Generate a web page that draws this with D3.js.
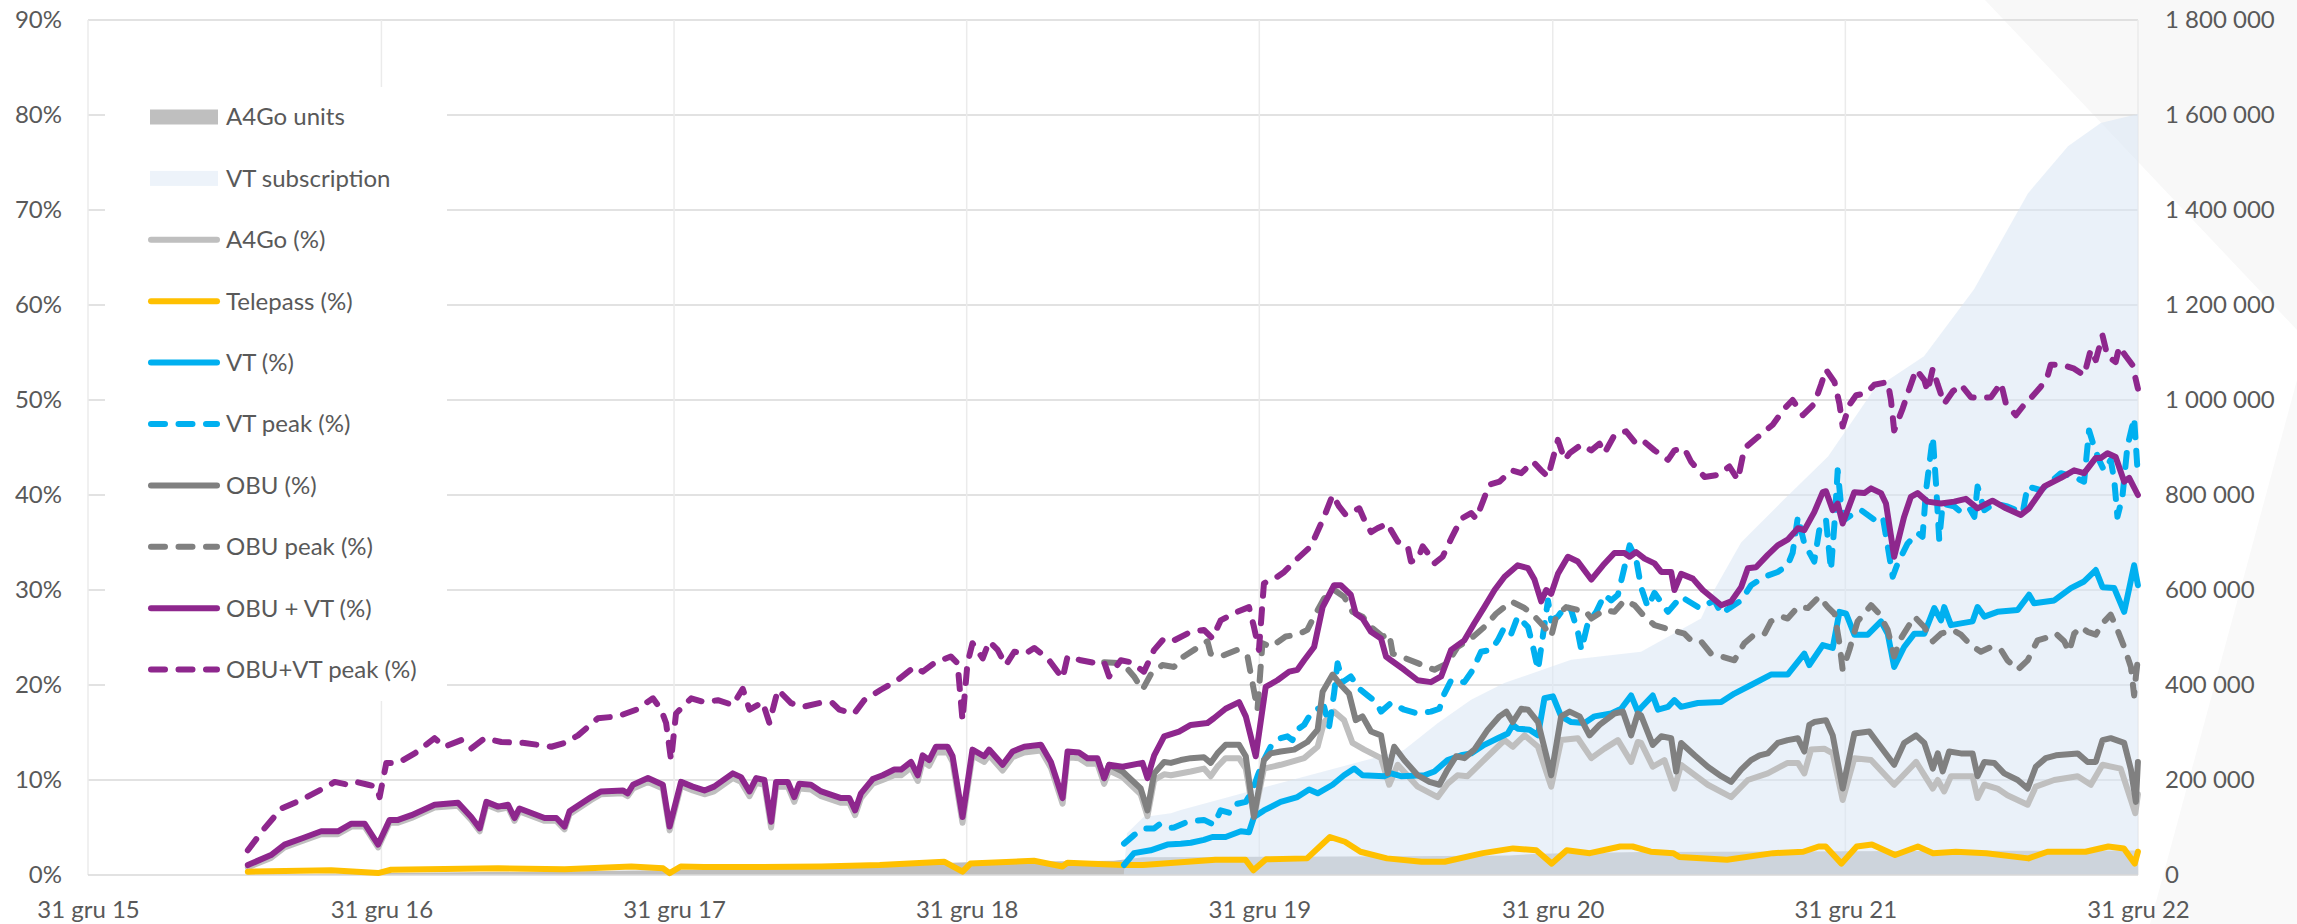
<!DOCTYPE html>
<html>
<head>
<meta charset="utf-8">
<script src="https://cdn.jsdelivr.net/npm/d3@7"></script>
<style>
  body { margin: 0; background: #fff; }
  svg text { font-family: Lato, "Open Sans", sans-serif; fill: #595959; }
</style>
</head>
<body>
<svg id="chart" width="2297" height="924"></svg>
<script>
// ---- data (dates as decimal years, values in % or units) ----

const yearEnds = ["2015-12-31", "2016-12-31", "2017-12-31", "2018-12-31", "2019-12-31", "2020-12-31", "2021-12-31", "2022-12-31"];
const pctTicks = [0, 10, 20, 30, 40, 50, 60, 70, 80, 90];
const unitTicks = [0, 200000, 400000, 600000, 800000, 1000000, 1200000, 1400000, 1600000, 1800000];

const a4goUnits = [[2016.54,1000],[2017.0,4000],[2017.5,7000],[2018.0,10500],[2018.5,17000],[2019.0,27000],[2019.5,30000],
  [2019.6,37500],[2020.0,38500],[2020.5,39500],[2020.85,41000],[2020.95,45000],[2021.3,48500],[2022.0,50000],[2022.5,50800],[2022.997,51500]];

const vtSubscriptions = [[2019.534,0],[2019.545,88000],[2019.602,122000],[2019.695,130000],[2019.729,137000],[2020.149,207000],
  [2020.490,263000],[2020.606,320000],[2020.719,369000],[2020.832,404000],[2021.060,453000],[2021.299,470000],[2021.504,540000],
  [2021.549,600000],[2021.641,700000],[2021.777,784000],[2021.938,881000],[2022.095,1022000],[2022.266,1092000],[2022.437,1233000],
  [2022.621,1435000],[2022.758,1534000],[2022.870,1583000],[2022.997,1602000]];

const a4goPct = [[2016.542,0.8],[2016.621,1.8],[2016.667,2.9],[2016.730,3.6],[2016.792,4.3],[2016.849,4.3],[2016.895,5.1],[2016.940,5.1],
  [2016.986,2.9],[2017.025,5.5],[2017.054,5.5],[2017.100,6.0],[2017.179,7.1],[2017.259,7.3],[2017.304,5.8],[2017.333,4.6],[2017.356,7.4],
  [2017.396,6.9],[2017.430,7.1],[2017.452,5.7],[2017.469,6.7],[2017.555,5.7],[2017.595,5.7],[2017.623,4.8],[2017.640,6.4],[2017.714,7.9],
  [2017.748,8.5],[2017.822,8.6],[2017.839,8.3],[2017.857,9.1],[2017.908,9.8],[2017.959,9.1],[2017.982,4.7],[2018.021,9.4],[2018.061,8.9],
  [2018.101,8.5],[2018.134,8.8],[2018.198,10.2],[2018.226,9.8],[2018.255,8.3],[2018.278,9.7],[2018.306,9.5],[2018.329,5.0],[2018.346,9.3],
  [2018.386,9.3],[2018.408,7.7],[2018.425,9.1],[2018.465,9.0],[2018.500,8.3],[2018.568,7.6],[2018.596,7.6],[2018.616,6.3],[2018.636,8.1],
  [2018.676,9.6],[2018.710,10.0],[2018.750,10.5],[2018.773,10.5],[2018.807,11.3],[2018.830,9.9],[2018.847,12.0],[2018.869,11.5],
  [2018.892,12.9],[2018.932,12.9],[2018.949,11.9],[2018.983,5.5],[2019.017,12.6],[2019.057,11.9],[2019.074,12.6],[2019.120,11.0],
  [2019.154,12.4],[2019.194,12.9],[2019.251,13.1],[2019.285,11.3],[2019.325,7.5],[2019.342,12.4],[2019.381,12.3],[2019.410,11.7],
  [2019.444,11.7],[2019.467,9.6],[2019.484,11.0],[2019.530,10.3],[2019.592,8.5],[2019.615,6.2],[2019.638,10.0],[2019.672,10.6],
  [2019.695,10.5],[2019.763,10.9],[2019.808,11.2],[2019.831,10.4],[2019.854,11.4],[2019.882,12.3],[2019.928,12.3],[2019.951,11.2],
  [2019.979,6.1],[2020.013,11.2],[2020.070,11.6],[2020.150,12.3],[2020.196,13.5],[2020.218,16.1],[2020.252,17.2],[2020.286,16.3],
  [2020.315,13.9],[2020.355,13.2],[2020.412,12.3],[2020.440,9.5],[2020.469,11.6],[2020.537,9.3],[2020.605,8.2],[2020.639,9.6],
  [2020.673,10.5],[2020.707,10.4],[2020.776,12.5],[2020.833,14.2],[2020.861,13.5],[2020.901,14.7],[2020.947,13.5],[2020.992,9.3],
  [2021.026,14.2],[2021.083,14.4],[2021.129,12.3],[2021.174,13.3],[2021.220,14.2],[2021.265,11.9],[2021.288,14.0],[2021.299,13.9],
  [2021.339,11.4],[2021.379,12.1],[2021.413,9.1],[2021.436,11.6],[2021.527,9.5],[2021.607,8.2],[2021.664,10.0],[2021.732,10.7],
  [2021.800,11.8],[2021.835,11.8],[2021.857,10.7],[2021.880,13.2],[2021.925,13.3],[2021.954,12.8],[2021.988,7.9],[2022.028,12.3],
  [2022.085,12.1],[2022.164,9.5],[2022.239,11.9],[2022.296,9.1],[2022.313,10.0],[2022.335,8.8],[2022.358,10.4],[2022.432,10.4],
  [2022.449,8.1],[2022.472,9.5],[2022.517,9.1],[2022.551,8.4],[2022.620,7.4],[2022.648,9.3],[2022.711,10.0],[2022.791,10.4],
  [2022.836,9.5],[2022.876,11.6],[2022.938,11.2],[2022.988,6.5],[2022.997,8.5]];

const telepassPct = [[2016.542,0.35],[2016.826,0.5],[2016.986,0.2],[2017.03,0.55],[2017.396,0.7],[2017.623,0.6],[2017.851,0.9],
  [2017.96,0.7],[2017.982,0.2],[2018.02,0.9],[2018.1,0.85],[2018.3,0.85],[2018.5,0.9],[2018.7,1.05],[2018.92,1.4],[2018.983,0.35],
  [2019.01,1.2],[2019.227,1.5],[2019.325,0.9],[2019.342,1.3],[2019.53,1.05],[2019.6,1.05],[2019.847,1.6],[2019.95,1.6],[2019.977,0.5],
  [2020.02,1.65],[2020.16,1.75],[2020.238,4.0],[2020.289,3.5],[2020.342,2.45],[2020.432,1.75],[2020.55,1.4],[2020.629,1.4],
  [2020.759,2.3],[2020.862,2.8],[2020.941,2.6],[2020.994,1.2],[2021.045,2.6],[2021.124,2.3],[2021.228,3.0],[2021.27,3.0],
  [2021.332,2.45],[2021.41,2.3],[2021.43,1.9],[2021.593,1.6],[2021.75,2.3],[2021.853,2.45],[2021.906,3.0],[2021.93,3.0],
  [2021.984,1.2],[2022.036,3.0],[2022.088,3.2],[2022.167,2.1],[2022.245,3.0],[2022.297,2.3],[2022.375,2.45],[2022.479,2.3],
  [2022.623,1.75],[2022.688,2.45],[2022.818,2.45],[2022.896,3.0],[2022.949,2.8],[2022.986,1.2],[2022.997,2.45]];

const vtPct = [[2019.535,1.05],[2019.569,2.3],[2019.626,2.6],[2019.683,3.2],[2019.729,3.3],[2019.763,3.4],[2019.808,3.7],[2019.837,4.0],
  [2019.882,4.0],[2019.934,4.6],[2019.962,4.5],[2019.979,6.1],[2020.013,6.8],[2020.070,7.7],[2020.127,8.2],[2020.167,9.0],[2020.196,8.6],
  [2020.247,9.5],[2020.286,10.5],[2020.321,11.2],[2020.349,10.5],[2020.423,10.4],[2020.446,10.7],[2020.480,10.4],[2020.560,10.5],
  [2020.594,10.9],[2020.639,12.1],[2020.685,12.6],[2020.719,12.8],[2020.764,13.7],[2020.810,14.4],[2020.844,14.9],[2020.861,15.8],
  [2020.878,15.4],[2020.918,15.3],[2020.947,14.7],[2020.969,18.6],[2020.998,18.8],[2021.026,16.7],[2021.060,16.1],[2021.106,16.0],
  [2021.140,16.7],[2021.197,17.0],[2021.231,17.5],[2021.265,18.9],[2021.288,17.2],[2021.299,17.6],[2021.339,18.9],[2021.357,17.4],
  [2021.391,17.7],[2021.413,18.4],[2021.436,17.7],[2021.493,18.1],[2021.573,18.2],[2021.618,19.1],[2021.675,20.0],[2021.743,21.1],
  [2021.800,21.1],[2021.857,23.3],[2021.874,22.1],[2021.920,24.2],[2021.954,23.9],[2021.977,27.7],[2022.000,27.5],[2022.028,25.3],
  [2022.074,25.3],[2022.119,26.7],[2022.142,25.4],[2022.164,21.9],[2022.198,24.0],[2022.233,25.4],[2022.267,25.4],[2022.301,28.1],
  [2022.324,26.8],[2022.335,28.2],[2022.358,26.3],[2022.432,26.7],[2022.449,28.2],[2022.472,27.2],[2022.517,27.7],[2022.586,27.9],
  [2022.625,29.5],[2022.642,28.6],[2022.711,28.9],[2022.768,30.2],[2022.813,30.9],[2022.853,32.1],[2022.876,30.3],[2022.916,30.2],
  [2022.950,27.7],[2022.984,32.6],[2022.997,30.5]];

const vtPeakPct = [[2019.535,3.3],[2019.569,4.2],[2019.603,4.9],[2019.638,4.9],[2019.655,5.3],[2019.683,4.9],[2019.706,5.0],
  [2019.752,5.6],[2019.808,5.8],[2019.842,5.3],[2019.865,6.8],[2019.900,6.5],[2019.922,7.5],[2019.951,7.7],[2019.974,8.9],
  [2019.991,10.4],[2020.013,12.1],[2020.036,13.5],[2020.070,14.4],[2020.093,14.6],[2020.110,14.2],[2020.127,15.3],[2020.150,15.8],
  [2020.173,17.0],[2020.196,17.5],[2020.218,17.7],[2020.235,15.6],[2020.252,19.1],[2020.264,22.3],[2020.281,20.3],[2020.309,20.9],
  [2020.338,19.6],[2020.366,18.9],[2020.395,18.2],[2020.412,17.2],[2020.446,18.1],[2020.491,17.4],[2020.537,17.0],[2020.582,17.2],
  [2020.611,17.5],[2020.628,19.1],[2020.651,20.5],[2020.696,20.3],[2020.725,21.6],[2020.753,23.5],[2020.787,23.7],[2020.810,24.7],
  [2020.833,26.1],[2020.856,25.4],[2020.878,27.2],[2020.913,26.1],[2020.930,24.0],[2020.947,21.6],[2020.981,28.9],[2020.992,26.8],
  [2021.015,27.2],[2021.043,28.4],[2021.060,27.9],[2021.083,25.6],[2021.095,23.7],[2021.117,26.5],[2021.146,27.7],[2021.174,29.5],
  [2021.197,28.9],[2021.220,29.5],[2021.237,31.7],[2021.260,34.7],[2021.282,33.3],[2021.299,30.3],[2021.322,28.2],[2021.345,29.7],
  [2021.391,27.7],[2021.436,29.3],[2021.499,28.1],[2021.550,28.9],[2021.573,27.5],[2021.641,28.9],[2021.675,30.5],[2021.721,31.4],
  [2021.766,31.9],[2021.800,32.6],[2021.817,33.9],[2021.835,37.7],[2021.857,34.9],[2021.891,33.0],[2021.908,36.3],[2021.931,37.4],
  [2021.948,32.1],[2021.960,37.0],[2021.971,42.6],[2021.982,39.1],[2021.994,37.4],[2022.028,38.1],[2022.051,38.4],[2022.096,37.4],
  [2022.125,37.7],[2022.142,34.6],[2022.159,31.4],[2022.176,32.8],[2022.210,34.9],[2022.244,36.0],[2022.261,35.6],[2022.273,40.5],
  [2022.296,46.1],[2022.307,41.2],[2022.318,35.3],[2022.330,39.1],[2022.369,38.8],[2022.392,38.2],[2022.421,38.6],[2022.438,37.7],
  [2022.449,40.9],[2022.472,38.4],[2022.506,39.1],[2022.551,38.8],[2022.603,38.1],[2022.620,40.9],[2022.665,40.5],[2022.734,42.3],
  [2022.779,41.9],[2022.813,41.4],[2022.830,46.8],[2022.847,45.1],[2022.864,43.7],[2022.881,42.6],[2022.904,43.7],[2022.916,41.6],
  [2022.927,37.7],[2022.944,39.8],[2022.961,45.1],[2022.984,48.1],[2022.997,42.0]];

const obuPct = [[2019.467,10.2],[2019.484,11.6],[2019.530,10.9],[2019.592,9.1],[2019.615,6.8],[2019.638,10.7],[2019.672,11.9],
  [2019.695,11.8],[2019.729,12.1],[2019.763,12.3],[2019.808,12.4],[2019.831,11.8],[2019.854,12.8],[2019.882,13.7],[2019.928,13.7],
  [2019.951,12.5],[2019.979,6.1],[2020.013,12.1],[2020.036,12.8],[2020.070,13.0],[2020.116,13.2],[2020.161,14.0],[2020.196,15.3],
  [2020.213,19.3],[2020.247,21.1],[2020.275,20.0],[2020.303,19.1],[2020.326,16.3],[2020.349,16.7],[2020.378,15.1],[2020.412,14.7],
  [2020.435,10.7],[2020.457,13.5],[2020.491,12.1],[2020.537,10.5],[2020.577,9.8],[2020.611,9.5],[2020.639,11.1],[2020.668,12.5],
  [2020.696,12.3],[2020.730,13.2],[2020.776,15.3],[2020.816,16.7],[2020.839,17.2],[2020.861,16.1],[2020.890,17.5],[2020.913,17.4],
  [2020.947,16.1],[2020.992,10.5],[2021.026,16.7],[2021.055,17.2],[2021.089,16.7],[2021.123,14.7],[2021.157,15.8],[2021.208,17.0],
  [2021.237,17.2],[2021.265,14.7],[2021.288,17.0],[2021.299,16.8],[2021.339,13.7],[2021.368,14.6],[2021.402,14.4],[2021.419,10.9],
  [2021.436,13.9],[2021.482,12.6],[2021.527,11.4],[2021.573,10.4],[2021.607,9.8],[2021.641,11.1],[2021.675,12.1],[2021.704,12.6],
  [2021.732,12.8],[2021.766,13.9],[2021.800,14.2],[2021.835,14.4],[2021.857,13.0],[2021.874,15.8],[2021.891,16.1],[2021.931,16.3],
  [2021.954,14.7],[2021.988,9.1],[2022.028,14.9],[2022.079,15.1],[2022.108,13.9],[2022.164,11.6],[2022.198,13.9],[2022.239,14.7],
  [2022.267,13.9],[2022.296,11.2],[2022.313,12.8],[2022.330,10.9],[2022.352,13.0],[2022.392,12.8],[2022.432,12.8],[2022.449,10.4],
  [2022.472,11.9],[2022.506,11.8],[2022.540,10.7],[2022.586,10.0],[2022.620,9.1],[2022.648,11.4],[2022.682,12.3],[2022.717,12.6],
  [2022.791,12.8],[2022.825,11.9],[2022.853,11.9],[2022.876,14.2],[2022.904,14.4],[2022.950,13.9],[2022.973,11.1],[2022.990,7.7],
  [2022.997,11.9]];

const obuPeakPct = [[2019.467,22.4],[2019.530,22.3],[2019.569,20.9],[2019.598,19.5],[2019.626,21.1],[2019.666,22.1],[2019.706,21.9],
  [2019.729,22.8],[2019.820,24.6],[2019.831,23.3],[2019.865,23.0],[2019.922,23.7],[2019.957,23.0],[2019.991,17.4],[2020.008,24.4],
  [2020.036,24.0],[2020.087,25.1],[2020.127,25.3],[2020.161,25.8],[2020.184,27.2],[2020.218,29.1],[2020.252,30.0],[2020.286,29.3],
  [2020.315,27.7],[2020.349,27.2],[2020.378,26.1],[2020.418,25.1],[2020.440,25.4],[2020.452,23.3],[2020.480,23.0],[2020.537,22.3],
  [2020.594,21.6],[2020.639,22.3],[2020.673,24.0],[2020.719,24.9],[2020.764,26.1],[2020.804,27.5],[2020.856,28.8],[2020.901,28.1],
  [2020.930,27.4],[2020.969,26.1],[2020.992,25.1],[2021.009,27.2],[2021.043,28.2],[2021.083,27.9],[2021.106,27.9],[2021.129,27.0],
  [2021.174,27.9],[2021.208,27.7],[2021.242,28.9],[2021.277,28.4],[2021.311,27.2],[2021.345,26.3],[2021.402,25.8],[2021.447,25.4],
  [2021.470,24.7],[2021.504,24.6],[2021.538,23.3],[2021.573,23.0],[2021.618,22.6],[2021.652,24.4],[2021.686,25.3],[2021.721,25.4],
  [2021.743,26.7],[2021.777,27.2],[2021.800,27.0],[2021.835,28.2],[2021.869,28.1],[2021.908,29.3],[2021.937,28.2],[2021.960,27.5],
  [2021.977,24.4],[2021.988,21.6],[2022.011,23.7],[2022.039,26.7],[2022.085,28.4],[2022.113,27.5],[2022.142,25.8],[2022.164,23.0],
  [2022.187,24.9],[2022.233,27.2],[2022.267,26.1],[2022.296,24.6],[2022.324,25.4],[2022.364,25.8],[2022.392,25.3],[2022.426,24.2],
  [2022.460,23.5],[2022.495,24.0],[2022.529,23.7],[2022.551,22.6],[2022.586,21.6],[2022.620,22.6],[2022.654,24.7],[2022.677,24.9],
  [2022.717,25.4],[2022.745,24.6],[2022.762,23.5],[2022.779,25.4],[2022.802,26.1],[2022.825,25.6],[2022.853,25.3],[2022.876,26.5],
  [2022.904,27.4],[2022.927,25.8],[2022.950,24.0],[2022.973,21.9],[2022.984,18.9],[2022.990,20.9],[2022.997,22.8]];

const obuVtPct = [[2016.542,1.05],[2016.621,2.1],[2016.667,3.2],[2016.730,3.9],[2016.792,4.6],[2016.849,4.6],[2016.895,5.4],
  [2016.940,5.4],[2016.986,3.2],[2017.025,5.8],[2017.054,5.8],[2017.100,6.3],[2017.179,7.4],[2017.259,7.6],[2017.304,6.1],
  [2017.333,4.9],[2017.356,7.7],[2017.396,7.2],[2017.430,7.4],[2017.452,6.0],[2017.469,7.0],[2017.555,6.0],[2017.595,6.0],
  [2017.623,5.1],[2017.640,6.7],[2017.714,8.2],[2017.748,8.8],[2017.822,8.9],[2017.839,8.6],[2017.857,9.5],[2017.908,10.2],
  [2017.959,9.5],[2017.982,5.1],[2018.021,9.8],[2018.061,9.3],[2018.101,8.9],[2018.134,9.3],[2018.198,10.7],[2018.226,10.3],
  [2018.255,8.8],[2018.278,10.2],[2018.306,10.0],[2018.329,5.6],[2018.346,9.8],[2018.386,9.8],[2018.408,8.2],[2018.425,9.6],
  [2018.465,9.5],[2018.500,8.8],[2018.568,8.1],[2018.596,8.1],[2018.616,6.8],[2018.636,8.6],[2018.676,10.1],[2018.710,10.5],
  [2018.750,11.1],[2018.773,11.1],[2018.807,11.9],[2018.830,10.5],[2018.847,12.6],[2018.869,12.1],[2018.892,13.5],[2018.932,13.5],
  [2018.949,12.5],[2018.983,6.1],[2019.017,13.2],[2019.057,12.5],[2019.074,13.2],[2019.120,11.6],[2019.154,13.0],[2019.194,13.5],
  [2019.251,13.7],[2019.285,11.9],[2019.325,8.1],[2019.342,13.0],[2019.381,12.9],[2019.410,12.3],[2019.444,12.3],[2019.467,10.2],
  [2019.484,11.6],[2019.530,11.4],[2019.598,11.8],[2019.615,10.2],[2019.638,12.6],[2019.672,14.6],[2019.723,15.1],[2019.763,15.8],
  [2019.820,16.0],[2019.842,16.5],[2019.882,17.5],[2019.928,18.2],[2019.951,16.7],[2019.985,12.5],[2020.019,19.8],[2020.059,20.5],
  [2020.099,21.4],[2020.127,21.6],[2020.150,22.6],[2020.184,24.0],[2020.213,28.2],[2020.252,30.5],[2020.275,30.5],[2020.309,29.5],
  [2020.326,27.5],[2020.349,27.0],[2020.378,25.6],[2020.412,24.9],[2020.429,23.0],[2020.446,22.6],[2020.491,21.6],[2020.537,20.5],
  [2020.582,20.3],[2020.617,20.9],[2020.651,23.7],[2020.696,24.7],[2020.730,26.5],[2020.764,28.2],[2020.799,30.0],[2020.833,31.4],
  [2020.878,32.6],[2020.913,32.3],[2020.935,31.1],[2020.958,28.8],[2020.975,30.0],[2020.992,29.6],[2021.015,31.7],[2021.049,33.5],
  [2021.083,33.0],[2021.129,31.1],[2021.169,32.6],[2021.208,33.9],[2021.242,33.9],[2021.260,33.5],[2021.282,34.0],[2021.311,33.3],
  [2021.345,32.8],[2021.368,31.9],[2021.402,31.9],[2021.413,30.0],[2021.436,31.7],[2021.476,31.2],[2021.510,30.0],[2021.573,28.4],
  [2021.607,28.8],[2021.641,30.3],[2021.664,32.3],[2021.692,32.4],[2021.732,33.7],[2021.766,34.7],[2021.800,35.3],[2021.835,36.5],
  [2021.857,36.3],[2021.891,38.2],[2021.920,40.3],[2021.931,40.4],[2021.954,38.4],[2021.971,39.1],[2021.988,37.0],[2022.028,40.3],
  [2022.062,40.2],[2022.085,40.7],[2022.119,40.2],[2022.136,39.1],[2022.164,33.5],[2022.198,37.7],[2022.221,39.8],[2022.244,40.2],
  [2022.278,39.3],[2022.324,39.1],[2022.369,39.3],[2022.409,39.6],[2022.449,38.6],[2022.500,39.4],[2022.546,38.6],[2022.597,37.9],
  [2022.625,38.6],[2022.677,40.9],[2022.734,41.8],[2022.779,42.6],[2022.813,42.3],[2022.853,43.9],[2022.870,43.9],[2022.893,44.4],
  [2022.921,44.0],[2022.950,41.4],[2022.967,41.8],[2022.997,40.0]];

const obuVtPeakPct = [[2016.542,2.6],[2016.593,4.7],[2016.656,7.0],[2016.724,7.9],[2016.798,9.1],[2016.838,9.8],[2016.883,9.5],
  [2016.912,9.8],[2016.952,9.5],[2016.980,9.3],[2016.991,8.2],[2017.014,11.8],[2017.054,11.8],[2017.111,12.8],[2017.179,14.4],
  [2017.213,13.5],[2017.270,14.2],[2017.304,13.3],[2017.350,14.4],[2017.407,14.0],[2017.486,13.9],[2017.578,13.5],[2017.623,13.9],
  [2017.669,14.7],[2017.737,16.5],[2017.805,16.7],[2017.868,17.4],[2017.925,18.6],[2017.953,17.4],[2017.970,16.0],[2017.987,12.1],
  [2018.004,17.0],[2018.056,18.6],[2018.101,18.2],[2018.147,18.4],[2018.198,17.9],[2018.232,19.6],[2018.255,17.4],[2018.300,18.2],
  [2018.323,16.0],[2018.352,19.5],[2018.397,18.1],[2018.437,17.7],[2018.494,18.1],[2018.539,18.1],[2018.562,17.4],[2018.613,17.0],
  [2018.647,18.4],[2018.704,19.5],[2018.761,20.5],[2018.818,21.9],[2018.847,21.4],[2018.886,22.3],[2018.943,23.0],[2018.966,22.3],
  [2018.983,16.3],[2019.000,22.3],[2019.017,24.4],[2019.052,22.8],[2019.074,24.6],[2019.103,23.7],[2019.131,22.1],[2019.160,23.5],
  [2019.199,23.3],[2019.228,23.9],[2019.274,22.8],[2019.325,20.7],[2019.342,23.0],[2019.387,22.6],[2019.439,22.3],[2019.467,22.4],
  [2019.484,20.9],[2019.524,22.6],[2019.558,22.4],[2019.603,21.4],[2019.638,23.7],[2019.672,24.9],[2019.706,24.7],[2019.763,25.6],
  [2019.808,25.8],[2019.837,24.9],[2019.865,26.8],[2019.922,27.7],[2019.962,28.2],[2019.979,26.1],[2019.996,23.7],[2020.013,30.7],
  [2020.059,31.4],[2020.082,31.9],[2020.127,33.3],[2020.173,34.6],[2020.218,37.7],[2020.247,40.0],[2020.269,38.8],[2020.292,37.9],
  [2020.338,38.6],[2020.355,37.4],[2020.378,36.1],[2020.400,36.5],[2020.435,37.0],[2020.446,36.3],[2020.469,35.1],[2020.503,34.6],
  [2020.514,33.0],[2020.537,33.2],[2020.554,34.6],[2020.571,33.9],[2020.594,32.8],[2020.622,33.5],[2020.651,35.4],[2020.685,37.5],
  [2020.719,38.1],[2020.736,37.5],[2020.759,39.3],[2020.781,41.1],[2020.816,41.4],[2020.856,42.6],[2020.890,42.3],[2020.930,43.5],
  [2020.958,42.6],[2020.981,41.9],[2021.015,45.8],[2021.038,43.7],[2021.055,44.4],[2021.095,45.3],[2021.129,44.7],[2021.157,45.4],
  [2021.174,44.4],[2021.208,46.3],[2021.248,46.7],[2021.277,45.6],[2021.299,45.9],[2021.345,44.7],[2021.391,43.7],[2021.413,44.7],
  [2021.447,44.9],[2021.470,43.5],[2021.516,41.9],[2021.561,42.1],[2021.601,43.0],[2021.630,41.6],[2021.652,44.9],[2021.698,46.1],
  [2021.749,47.4],[2021.789,49.1],[2021.817,50.0],[2021.852,48.4],[2021.891,49.6],[2021.914,51.6],[2021.931,53.2],[2021.960,51.9],
  [2021.977,49.6],[2021.988,47.2],[2022.011,49.5],[2022.034,50.5],[2022.068,50.7],[2022.096,51.6],[2022.142,51.9],[2022.153,50.0],
  [2022.164,46.8],[2022.193,49.1],[2022.216,51.2],[2022.239,53.2],[2022.267,52.1],[2022.278,50.9],[2022.296,53.3],[2022.313,51.6],
  [2022.335,49.6],[2022.364,50.9],[2022.392,51.6],[2022.426,50.3],[2022.460,50.2],[2022.495,50.3],[2022.529,51.8],[2022.546,49.6],
  [2022.580,48.4],[2022.608,49.5],[2022.631,50.2],[2022.665,51.4],[2022.688,52.5],[2022.699,53.7],[2022.739,53.7],[2022.779,53.3],
  [2022.813,52.6],[2022.836,55.3],[2022.853,54.2],[2022.876,56.8],[2022.893,54.6],[2022.921,54.0],[2022.933,55.6],[2022.956,54.6],
  [2022.978,53.7],[2022.997,51.2]];

// ---- drawing ----

const svg = d3.select("#chart");
const plot = { left: 88, right: 2138, top: 20, bottom: 875 };

// decimal year -> Date
function toDate(t) {
  const yr = Math.floor(t);
  const a = new Date(yr, 0, 1), b = new Date(yr + 1, 0, 1);
  return new Date(+a + (t - yr) * (b - a));
}

const parse = d3.timeParse("%Y-%m-%d");
const x = d3.scaleTime().domain([parse(yearEnds[0]), parse(yearEnds[yearEnds.length - 1])]).range([plot.left, plot.right]);
const y = d3.scaleLinear().domain([0, 90]).range([plot.bottom, plot.top]);
const y2 = d3.scaleLinear().domain([0, 1800000]).range([plot.bottom, plot.top]);

const pl = d3.timeFormatLocale({
  dateTime: "%A, %e %B %Y, %X", date: "%d.%m.%Y", time: "%H:%M:%S", periods: ["AM", "PM"],
  days: ["niedziela","poniedziałek","wtorek","środa","czwartek","piątek","sobota"],
  shortDays: ["nie","pon","wt","śr","czw","pt","sob"],
  months: ["styczeń","luty","marzec","kwiecień","maj","czerwiec","lipiec","sierpień","wrzesień","październik","listopad","grudzień"],
  shortMonths: ["sty","lut","mar","kwi","maj","cze","lip","sie","wrz","paź","lis","gru"]
});
const dateFmt = pl.format("%-d %b %y");
const numFmt = d3.formatLocale({ decimal: ",", thousands: " ", grouping: [3], currency: ["", " zł"] }).format(",d");

// very faint background decoration
const deco = svg.append("g");
deco.append("polygon").attr("points", "1985,0 2297,0 2297,330").attr("fill", "#f8f8f8");
deco.append("polygon").attr("points", "2297,380 2297,924 2150,924").attr("fill", "#f9f9f9");

// gridlines
const grid = svg.append("g");
grid.selectAll("line.h").data(pctTicks.slice(1)).join("line")
  .attr("x1", plot.left).attr("x2", plot.right)
  .attr("y1", d => y(d)).attr("y2", d => y(d))
  .attr("stroke", "#d9d9d9").attr("stroke-width", 1.5);
grid.selectAll("line.v").data(yearEnds).join("line")
  .attr("x1", d => x(parse(d))).attr("x2", d => x(parse(d)))
  .attr("y1", plot.top).attr("y2", plot.bottom)
  .attr("stroke", "#ebebeb").attr("stroke-width", 1.5);

// areas (right axis)
const area = d3.area().x(d => x(toDate(d[0]))).y0(plot.bottom).y1(d => y2(d[1]));
svg.append("path").datum(a4goUnits).attr("d", area).attr("fill", "#bfbfbf");
svg.append("path").datum(vtSubscriptions).attr("d", area).attr("fill", "#d9e5f4").attr("fill-opacity", 0.55);

// baseline
svg.append("line").attr("x1", plot.left).attr("x2", plot.right)
  .attr("y1", plot.bottom).attr("y2", plot.bottom)
  .attr("stroke", "#d9d9d9").attr("stroke-width", 1.5);

// lines
const series = [
  { name: "A4Go (%)", data: a4goPct, color: "#bfbfbf", dash: null },
  { name: "Telepass (%)", data: telepassPct, color: "#ffc000", dash: null },
  { name: "VT (%)", data: vtPct, color: "#00b0f0", dash: null },
  { name: "VT peak (%)", data: vtPeakPct, color: "#00b0f0", dash: "14,13.5" },
  { name: "OBU (%)", data: obuPct, color: "#808080", dash: null },
  { name: "OBU peak (%)", data: obuPeakPct, color: "#808080", dash: "14,13.5" },
  { name: "OBU + VT (%)", data: obuVtPct, color: "#8e278d", dash: null },
  { name: "OBU+VT peak (%)", data: obuVtPeakPct, color: "#8e278d", dash: "14,13.5" }
];
const line = d3.line().x(d => x(toDate(d[0]))).y(d => y(d[1]));
svg.append("g").selectAll("path").data(series).join("path")
  .attr("d", d => line(d.data))
  .attr("fill", "none")
  .attr("stroke", d => d.color)
  .attr("stroke-width", 6)
  .attr("stroke-linejoin", "round")
  .attr("stroke-linecap", "round")
  .attr("stroke-dasharray", d => d.dash);

// axes
const axisLeft = svg.append("g").attr("transform", `translate(${plot.left},0)`)
  .call(d3.axisLeft(y).tickValues(pctTicks).tickFormat(d => d + "%").tickSize(0).tickPadding(26));
const axisRight = svg.append("g").attr("transform", `translate(${plot.right},0)`)
  .call(d3.axisRight(y2).tickValues(unitTicks).tickFormat(numFmt).tickSize(0).tickPadding(27));
const axisBottom = svg.append("g").attr("transform", `translate(0,${plot.bottom})`)
  .call(d3.axisBottom(x).tickValues(yearEnds.map(parse)).tickFormat(dateFmt).tickSize(0).tickPadding(26));
[axisLeft, axisRight, axisBottom].forEach(g => {
  g.select(".domain").remove();
  g.selectAll("text").attr("font-size", 24).attr("font-family", "Lato, sans-serif").attr("fill", "#595959");
});

// legend
const legendItems = [
  { name: "A4Go units", type: "rect", color: "#bfbfbf" },
  { name: "VT subscription", type: "rect", color: "#edf3fa" }
].concat(series.map(s => ({ name: s.name, type: "line", color: s.color, dash: s.dash })));

const legend = svg.append("g");
legend.append("rect").attr("x", 105).attr("y", 87).attr("width", 342).attr("height", 614).attr("fill", "#fff");
const item = legend.selectAll("g.item").data(legendItems).join("g")
  .attr("transform", (d, i) => `translate(0,${117 + i * 61.4})`);
item.filter(d => d.type === "rect").append("rect")
  .attr("x", 150).attr("y", -7.5).attr("width", 68).attr("height", 15).attr("fill", d => d.color);
item.filter(d => d.type === "line").append("line")
  .attr("x1", 151).attr("x2", 217).attr("y1", 0).attr("y2", 0)
  .attr("stroke", d => d.color).attr("stroke-width", 6)
  .attr("stroke-linecap", "round").attr("stroke-dasharray", d => d.dash);
item.append("text").attr("x", 226).attr("y", 0).attr("dy", "0.35em")
  .attr("font-size", 24).text(d => d.name);
</script>
</body>
</html>
